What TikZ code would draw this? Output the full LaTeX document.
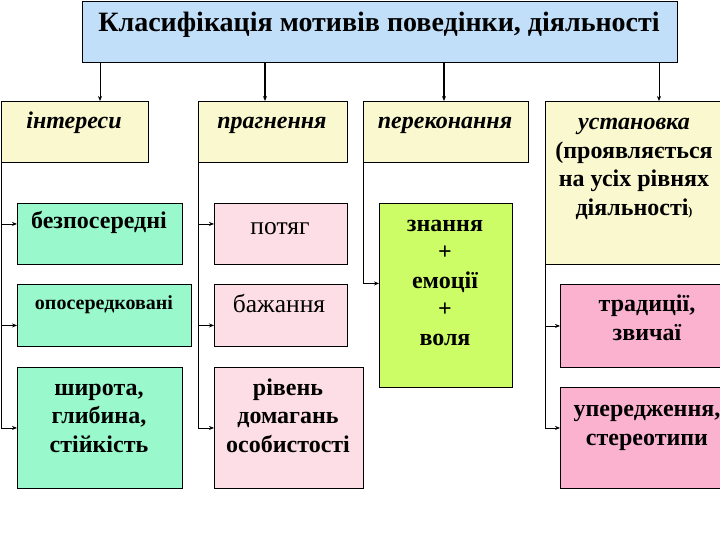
\documentclass[tikz,border=0pt]{standalone}
\usepackage{fontspec}
\setmainfont{Liberation Serif}
\usetikzlibrary{arrows.meta,positioning}
\definecolor{titleblue}{HTML}{C2DFFA}
\definecolor{paleyellow}{HTML}{FAF8CE}
\definecolor{mint}{HTML}{99F9CC}
\definecolor{palepink}{HTML}{FDDDE6}
\definecolor{lime}{HTML}{CCFC66}
\definecolor{rosepink}{HTML}{FBB2CF}
\tikzset{
  box/.style={draw=black, line width=0.9pt, inner sep=0pt, anchor=north west},
  lbl/.style={font=\fontsize{24}{28.5}\selectfont\bfseries, align=center, inner sep=0pt, anchor=base},
  ital/.style={lbl, font=\fontsize{24}{28.5}\selectfont\bfseries\itshape},
  thin/.style={lbl, font=\fontsize{25.5}{28.5}\selectfont},
  arr/.style={-{Stealth[length=5pt,width=4pt]}, line width=0.8pt},
}
\begin{document}
\begin{tikzpicture}[x=1pt,y=-1pt]
    \useasboundingbox (0,0) rectangle (720,540);
    \clip (0,0) rectangle (720,540);
    % title
    \node[box,fill=titleblue,minimum width=595pt,minimum height=61pt] (title) at (82,1) {};
    \node[lbl,font=\fontsize{28}{30}\selectfont\bfseries] (titletxt) at (379,32) {Класифікація мотивів поведінки, діяльності};
    % top row
    \node[box,fill=paleyellow,minimum width=147pt,minimum height=61pt] (ints) at (1,101) {};
    \node[box,fill=paleyellow,minimum width=149pt,minimum height=61pt] (pragn) at (198,101) {};
    \node[box,fill=paleyellow,minimum width=165pt,minimum height=61pt] (perek) at (363,101) {};
    \node[box,fill=paleyellow,minimum width=180pt,minimum height=163pt] (ustan) at (545,101) {};
    \node[ital] (intstxt) at (74,129) {інтереси};
    \node[ital] (pragntxt) at (272,129) {прагнення};
    \node[ital] (perektxt) at (445,129) {переконання};
    \node[ital] (ustantxt) at (634,130) {установка};
    \node[lbl] (ustannote) at (634,215) {(проявляється\\на усіх рівнях\\діяльності{\fontsize{12}{12}\selectfont)}};
    % column 1
    \node[box,fill=mint,minimum width=165pt,minimum height=61pt] (bezp) at (17,203) {};
    \node[box,fill=mint,minimum width=174pt,minimum height=62pt] (opos) at (17,284) {};
    \node[box,fill=mint,minimum width=165pt,minimum height=121pt] (shir) at (17,367) {};
    \node[lbl] (bezptxt) at (99,229) {безпосередні};
    \node[lbl,font=\fontsize{20}{24}\selectfont\bfseries] (opostxt) at (104,309) {опосередковані};
    \node[lbl] (shirtxt) at (99,452) {широта,\\глибина,\\стійкість};
    % column 2
    \node[box,fill=palepink,minimum width=133pt,minimum height=61pt] (potyag) at (214,203) {};
    \node[box,fill=palepink,minimum width=133pt,minimum height=62pt] (bazh) at (214,284) {};
    \node[box,fill=palepink,minimum width=149pt,minimum height=121pt] (riven) at (214,367) {};
    \node[thin] (potyagtxt) at (280,235) {потяг};
    \node[thin] (bazhtxt) at (279,312) {бажання};
    \node[lbl] (riventxt) at (288,452) {рівень\\домагань\\особистості};
    % column 3
    \node[box,fill=lime,minimum width=133pt,minimum height=184pt] (znan) at (379,203) {};
    \node[lbl] (znantxt) at (445,345) {знання\\+\\емоції\\+\\воля};
    % column 4
    \node[box,fill=rosepink,minimum width=165pt,minimum height=83pt] (trad) at (560,284) {};
    \node[box,fill=rosepink,minimum width=165pt,minimum height=101pt] (uper) at (560,387) {};
    \node[lbl] (tradtxt) at (647,340) {традиції,\\звичаї};
    \node[lbl] (upertxt) at (647,445) {упередження,\\стереотипи};

    % arrows from the title
    \draw[arr] (title.south -| 100,0) -- (ints.north -| 100,0);
    \draw[arr,line width=1.4pt] (title.south -| 265,0) -- (pragn.north -| 265,0);
    \draw[arr,line width=1.4pt] (title.south -| 444,0) -- (perek.north -| 444,0);
    \draw[arr] (title.south -| 659,0) -- (ustan.north -| 659,0);
    % side connectors
    \draw[arr] (ints.south west) |- (shir.west);
    \draw[arr] (ints.south west |- bezp.west) ++(0,-10) -- ([yshift=10pt]bezp.west);
    \draw[arr] (ints.south west |- opos.west) ++(0,10) -- ([yshift=-10pt]opos.west);
    \draw[arr] (pragn.south west) |- (riven.west);
    \draw[arr] (pragn.south west |- potyag.west) ++(0,-10) -- ([yshift=10pt]potyag.west);
    \draw[arr] (pragn.south west |- bazh.west) ++(0,10) -- ([yshift=-10pt]bazh.west);
    \draw[arr] (perek.south west) |- ([yshift=12pt]znan.west);
    \draw[arr] (ustan.south west) |- ([yshift=10pt]uper.west);
    \draw[arr] (ustan.south west |- trad.west) -- (trad.west);
\end{tikzpicture}
\end{document}
